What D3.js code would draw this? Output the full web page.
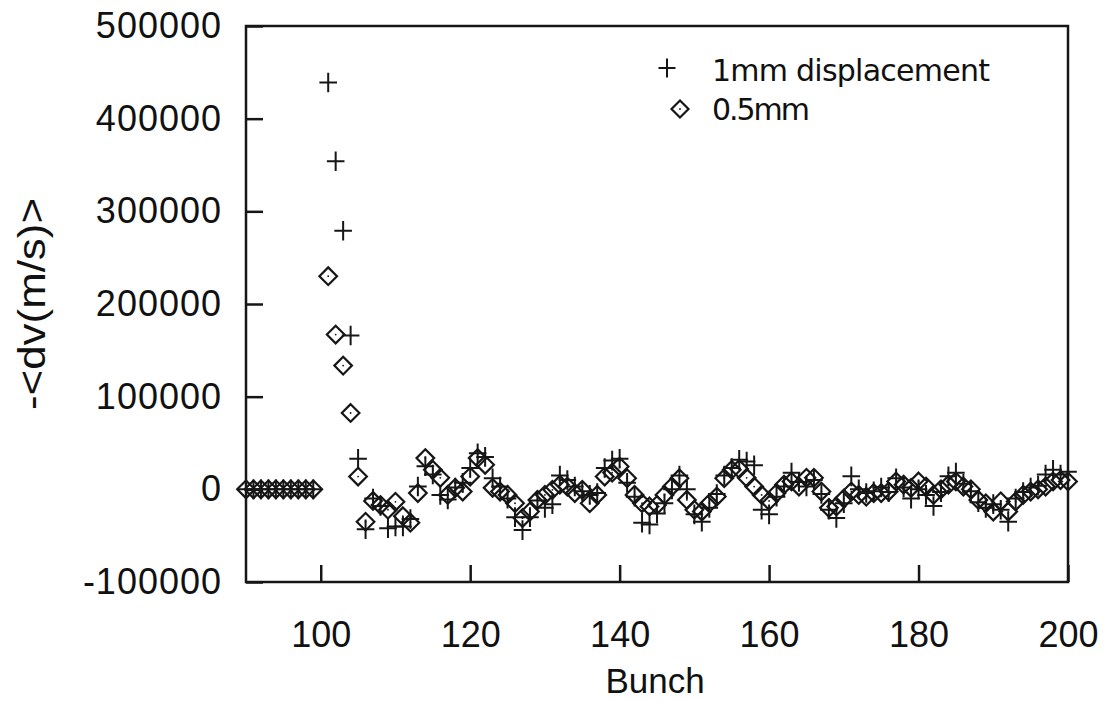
<!DOCTYPE html>
<html>
<head>
<meta charset="utf-8">
<script src="https://cdn.jsdelivr.net/npm/d3@7"></script>
<style>
  html, body { margin: 0; padding: 0; background: #fff; }
  svg { display: block; }
  text { font-family: "Liberation Sans", Arial, sans-serif; fill: #111; }
</style>
</head>
<body>
<svg id="chart" width="1105" height="702"></svg>
<script>
// Bunch numbers (flat region before the driving bunch, then the trailing bunches)
const bunches = d3.range(90, 100).concat(d3.range(101, 201));

// Mean velocity kick <dv> (m/s) for a 1 mm displacement
const disp1mm = [
  0, 0, 0, 0, 0, 0, 0, 0, 0, 0,
  439000, 354000, 279000, 166000, 33000, -43000, -10000, -18000, -42000, -40000,
  -40000, -32000, 3000, 25000, 16000, -6000, -11000, 2000, 7000, 23000,
  39000, 35000, 12000, 3000, -10000, -30000, -44000, -30000, -12000, -20000,
  -16000, 15000, 10000, 3000, -2000, -6000, -4000, 23000, 31000, 33000,
  7000, -8000, -36000, -38000, -26000, -15000, 0, 15000, 0, -27000,
  -35000, -20000, -5000, 15000, 23000, 32000, 30000, 26000, -22000, -27000,
  -8000, 3000, 18000, 8000, 3000, 10000, -5000, -22000, -31000, -15000,
  14000, 0, -4000, -2000, 2000, -3000, 12000, 2000, -10000, 0,
  -6000, -18000, -3000, 14000, 18000, 6000, -2000, -14000, -20000, -16000,
  -22000, -35000, -10000, -3000, 2000, 4000, 16000, 21000, 16000, 19000
];

// Mean velocity kick <dv> (m/s) for a 0.5 mm displacement
const disp05mm = [
  0, 0, 0, 0, 0, 0, 0, 0, 0, 0,
  230000, 167000, 133500, 82400, 13800, -35000, -12500, -17000, -22000, -13500,
  -29000, -36000, -4000, 33700, 21000, 12400, -6000, 1600, -2400, 13800,
  33700, 26500, 1600, -2400, -6000, -15000, -31000, -24000, -11400, -6000,
  -500, 5000, 3000, -4000, -500, -15000, -6000, 13800, 18000, 24600,
  12000, -6000, -15000, -18500, -17000, -6000, 3000, 12000, -11400, -22000,
  -24000, -15000, -7800, 12000, 21000, 22000, 12400, 3000, -6000, -12500,
  -4000, 5000, 8500, 3000, 12400, 12400, -2400, -20000, -18500, -10000,
  -2400, -6000, -8000, -4000, -4000, -2400, 8500, 5000, 1600, 8500,
  3000, -6000, 0, 5000, 8500, 3000, 0, -11400, -15000, -24000,
  -13000, -24000, -13000, -6000, -2400, 0, 3000, 8500, 10000, 8500
];

const xTicks = [100, 120, 140, 160, 180, 200];
const yTicks = [-100000, 0, 100000, 200000, 300000, 400000, 500000];
const legendLabels = ["1mm displacement", "0.5mm"];

const svg = d3.select("#chart");
const plotL = 246, plotR = 1068, plotT = 26, plotB = 582;

const x = d3.scaleLinear().domain([90, 200]).range([plotL, plotR]);
const y = d3.scaleLinear().domain([-100000, 500000]).range([plotB, plotT]);

const ink = "#161616";
const plainNumber = d => String(d);   // ASCII hyphen for negatives

// Frame around the plotting area
svg.append("rect")
  .attr("x", plotL).attr("y", plotT)
  .attr("width", plotR - plotL).attr("height", plotB - plotT)
  .attr("fill", "none").attr("stroke", ink).attr("stroke-width", 2.5);

// Axes with inward ticks
const yAxis = svg.append("g")
  .attr("transform", `translate(${plotL},0)`)
  .call(d3.axisLeft(y).tickValues(yTicks).tickFormat(plainNumber)
    .tickSizeInner(-17).tickSizeOuter(0).tickPadding(24));
const xAxis = svg.append("g")
  .attr("transform", `translate(0,${plotB})`)
  .call(d3.axisBottom(x).tickValues(xTicks).tickFormat(plainNumber)
    .tickSizeInner(-17).tickSizeOuter(0).tickPadding(39));

[xAxis, yAxis].forEach(g => {
  g.select(".domain").remove();
  g.selectAll(".tick line").attr("stroke", ink).attr("stroke-width", 2.5);
  g.selectAll(".tick text")
    .style("font-family", "'Liberation Sans', Arial, sans-serif")
    .style("font-size", "36px").attr("fill", ink);
});
yAxis.selectAll(".tick text").style("letter-spacing", "1px");

// Axis titles
svg.append("text")
  .attr("x", (plotL + plotR) / 2 - 2).attr("y", 693)
  .attr("text-anchor", "middle")
  .style("font-size", "35px")
  .text("Bunch");

svg.append("text")
  .attr("transform", `translate(45,${(plotT + plotB) / 2}) rotate(-90)`)
  .attr("text-anchor", "middle")
  .style("font-size", "39px")
  .attr("textLength", 212)
  .attr("lengthAdjust", "spacingAndGlyphs")
  .text("-<dv(m/s)>");

// Marker shapes
const half = 8.8;
function drawPlus(g, cx, cy, h) {
  g.append("path")
    .attr("d", `M${cx - h},${cy}H${cx + h}M${cx},${cy - h - 1}V${cy + h + 1}`)
    .attr("stroke", ink).attr("stroke-width", 2).attr("fill", "none");
}
function drawDiamond(g, cx, cy, h) {
  g.append("path")
    .attr("d", `M${cx},${cy - h}L${cx + h},${cy}L${cx},${cy + h}L${cx - h},${cy}Z`)
    .attr("stroke", ink).attr("stroke-width", 2.2).attr("fill", "none")
    .attr("stroke-linejoin", "miter");
  g.append("circle").attr("cx", cx).attr("cy", cy).attr("r", 0.9).attr("fill", ink);
}

const marks = svg.append("g");
bunches.forEach((b, i) => {
  drawDiamond(marks, x(b), y(disp05mm[i]), half);
});
bunches.forEach((b, i) => {
  drawPlus(marks, x(b), y(disp1mm[i]), half);
});

// Legend
const legend = svg.append("g");
drawPlus(legend, 667, 68, 8.5);
drawDiamond(legend, 680, 109, 8.5);
legend.append("text")
  .attr("x", 712).attr("y", 81)
  .style("font-family", "'DejaVu Sans', sans-serif")
  .style("font-size", "30px")
  .attr("textLength", 278)
  .text(legendLabels[0]);
legend.append("text")
  .attr("x", 712).attr("y", 120)
  .style("font-family", "'DejaVu Sans', sans-serif")
  .style("font-size", "30px")
  .attr("textLength", 98)
  .text(legendLabels[1]);
</script>
</body>
</html>
